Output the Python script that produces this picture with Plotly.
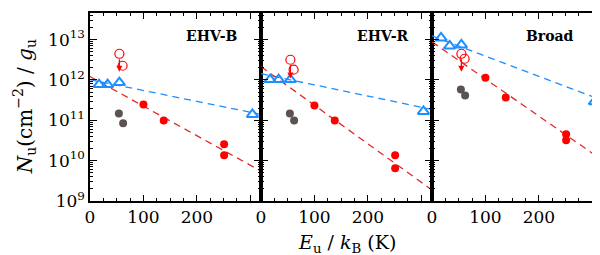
import math
import plotly.graph_objects as go
from plotly.subplots import make_subplots

# ---------------- data ----------------
panels = ["EHV-B", "EHV-R", "Broad"]

E_tri = [17, 33, 55, 304]          # K  (blue open triangles)
E_open = [55, 61]                  # K  (red open circles)
E_gray = [54, 62]                  # K  (grey filled circles)
E_red = [100, 138, 251, 251]       # K  (red filled circles)
E_fit = [0, 320]                   # K  (extent of the dashed fits)

tri_B = [7.7e11, 7.7e11, 8.6e11, 1.40e11]
tri_R = [1.02e12, 1.02e12, 1.02e12, 1.66e11]
tri_Br = [1.10e13, 7.0e12, 7.4e12, 2.9e11]

open_B = [4.46e12, 2.25e12]
open_R = [3.17e12, 1.80e12]
open_Br = [4.46e12, 3.36e12]

arrow_tip_B = 1.60e12
arrow_tip_R = 1.08e12
arrow_tip_Br = 1.60e12

gray_B = [1.48e11, 8.4e10]
gray_R = [1.48e11, 9.9e10]
gray_Br = [5.8e11, 4.1e11]

red_B = [2.47e11, 9.9e10, 2.55e10, 1.36e10]
red_R = [2.33e11, 9.9e10, 1.36e10, 6.5e9]
red_Br = [1.14e12, 3.67e11, 4.5e10, 3.2e10]

bluefit_B = [1.02e12, 1.40e11]
bluefit_R = [1.43e12, 1.86e11]
bluefit_Br = [1.24e13, 3.09e11]

redfit_B = [1.21e12, 5.5e9]
redfit_R = [2.13e12, 1.87e9]
redfit_Br = [8.8e12, 1.0e10]

x_tickvals = [0, 100, 200, 300]
x_ticktext = ["0", "100", "200", ""]
y_tickvals = [1e9, 1e10, 1e11, 1e12, 1e13]
y_ticktext = ["10<sup>9</sup>", "10<sup>10</sup>", "10<sup>11</sup>",
              "10<sup>12</sup>", "10<sup>13</sup>"]

tri_all = [tri_B, tri_R, tri_Br]
open_all = [open_B, open_R, open_Br]
tip_all = [arrow_tip_B, arrow_tip_R, arrow_tip_Br]
gray_all = [gray_B, gray_R, gray_Br]
red_all = [red_B, red_R, red_Br]
bfit_all = [bluefit_B, bluefit_R, bluefit_Br]
rfit_all = [redfit_B, redfit_R, redfit_Br]

# minor log ticks 2..9 in each decade
y_minor = [m * 10 ** d for d in range(9, 14) for m in range(2, 10)]

# ---------------- styles ----------------
BLUE = "#1e8fff"
RED = "#ff0000"
REDLINE = "#e02a2a"
GRAY = "#5c5252"
FONT = "DejaVu Serif"

fig = make_subplots(rows=1, cols=3, shared_yaxes=True, horizontal_spacing=0)

for i in range(3):
    c = i + 1
    fig.add_trace(go.Scatter(x=E_fit, y=bfit_all[i], mode="lines",
                             line=dict(color=BLUE, width=1.3, dash="7px,5px"),
                             showlegend=False), row=1, col=c)
    fig.add_trace(go.Scatter(x=E_fit, y=rfit_all[i], mode="lines",
                             line=dict(color=REDLINE, width=1.3, dash="7px,5px"),
                             showlegend=False), row=1, col=c)
    fig.add_trace(go.Scatter(x=E_gray, y=gray_all[i], mode="markers",
                             marker=dict(color=GRAY, size=8),
                             showlegend=False), row=1, col=c)
    fig.add_trace(go.Scatter(x=E_red, y=red_all[i], mode="markers",
                             marker=dict(color=RED, size=8),
                             showlegend=False), row=1, col=c)
    fig.add_trace(go.Scatter(x=E_open, y=open_all[i], mode="markers",
                             marker=dict(symbol="circle-open", color=RED, size=9,
                                         line=dict(width=1.2, color=RED)),
                             showlegend=False), row=1, col=c)
    fig.add_trace(go.Scatter(x=E_tri, y=tri_all[i], mode="markers",
                             marker=dict(symbol="triangle-up-open", color=BLUE, size=10,
                                         line=dict(width=2, color=BLUE)),
                             showlegend=False), row=1, col=c)
    xr = "x" if c == 1 else f"x{c}"
    yr = "y" if c == 1 else f"y{c}"
    # upper-limit arrow from the first open circle
    fig.add_annotation(x=E_open[0], y=math.log10(tip_all[i]),
                       ax=E_open[0], ay=math.log10(open_all[i][0]),
                       xref=xr, yref=yr, axref=xr, ayref=yr,
                       showarrow=True, arrowhead=2, arrowsize=1,
                       arrowwidth=1.2, arrowcolor=RED, standoff=0, startstandoff=4,
                       text="")
    # panel label
    fig.add_annotation(x=0.875 if c < 3 else 0.845, y=0.878,
                       xref=f"{xr} domain", yref=f"{yr} domain",
                       xanchor="right", yanchor="middle", showarrow=False,
                       text=f"<b>{panels[i]}</b>",
                       font=dict(family=FONT, size=14, color="black"))

for c in range(1, 4):
    fig.update_xaxes(range=[0, 320], tickvals=x_tickvals, ticktext=x_ticktext,
                     ticks="inside", ticklen=6, tickwidth=1.2, tickcolor="black",
                     minor=dict(dtick=25, ticks="inside", ticklen=3, tickwidth=0.8,
                                tickcolor="black", showgrid=False),
                     showline=True, linecolor="black", linewidth=1.5, mirror="ticks",
                     showgrid=False, zeroline=False,
                     tickfont=dict(family=FONT, size=17, color="black"),
                     row=1, col=c)
    fig.update_yaxes(type="log", range=[9.0, 13.66],
                     tickvals=y_tickvals, ticktext=y_ticktext,
                     ticks="inside", ticklen=7, tickwidth=1.2, tickcolor="black",
                     minor=dict(tickmode="array", tickvals=y_minor, ticks="inside",
                                ticklen=3, tickwidth=0.7, tickcolor="black",
                                showgrid=False),
                     showline=True, linecolor="black", linewidth=1.5, mirror="ticks",
                     showgrid=False, zeroline=False,
                     tickfont=dict(family=FONT, size=17, color="black"),
                     row=1, col=c)

fig.update_layout(
    width=600, height=255,
    margin=dict(l=82, r=3, t=4, b=62),
    plot_bgcolor="white", paper_bgcolor="white",
    font=dict(family=FONT, color="black"),
)

fig.add_annotation(x=0.5, y=-0.225, xref="paper", yref="paper",
                   xanchor="center", yanchor="middle", showarrow=False,
                   text="<i>E</i><sub>u</sub> / <i>k</i><sub>B</sub> (K)",
                   font=dict(family=FONT, size=19, color="black"))
fig.add_annotation(x=-0.128, y=0.5, xref="paper", yref="paper",
                   xanchor="center", yanchor="middle", showarrow=False,
                   textangle=-90,
                   text="<i>N</i><sub>u</sub>(cm<sup>−2</sup>) / <i>g</i><sub>u</sub>",
                   font=dict(family=FONT, size=20, color="black"))

fig.write_html("out.html")
